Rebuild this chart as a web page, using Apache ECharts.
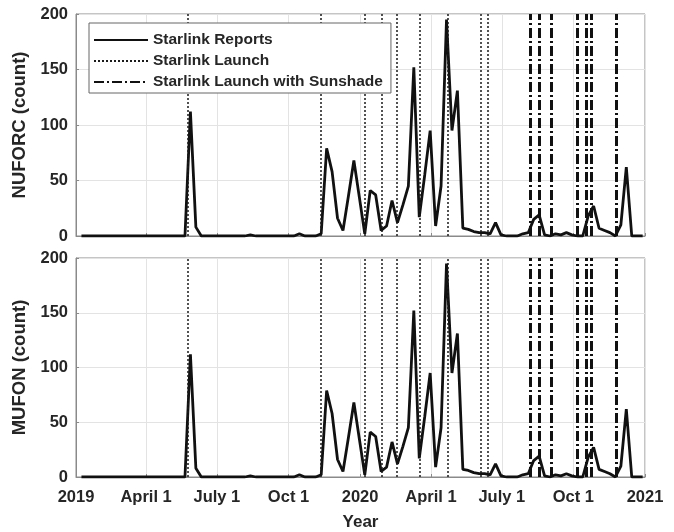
<!DOCTYPE html>
<html><head><meta charset="utf-8">
<script src="https://cdn.jsdelivr.net/npm/echarts@6/dist/echarts.min.js"></script>
<style>html,body{margin:0;padding:0;background:#fff}#c{width:674px;height:532px}</style>
</head><body><div id="c"></div>
<script>
// ---- data ----
const firstWeek = '2019-01-08';
const nuforcCounts = [0,0,0,0,0,0,0,0,0,0,0,0,0,0,0,0,0,0,0,0,112,8,0,0,0,0,0,0,0,0,0,1,0,0,0,0,0,0,0,0,2,0,0,0,2,79,58,16,5,36,68,35,2,41,37,5,9,32,12,28,45,152,17,55,95,9,45,195,95,131,7,6,4,3,3,2,12,1,0,0,0,2,3,15,19,1,0,2,1,3,1,0,0,18,27,7,5,3,0,10,62,0,0,0];
const mufonCounts  = [0,0,0,0,0,0,0,0,0,0,0,0,0,0,0,0,0,0,0,0,112,8,0,0,0,0,0,0,0,0,0,1,0,0,0,0,0,0,0,0,2,0,0,0,2,79,58,16,5,36,68,35,2,41,37,5,9,32,12,28,45,152,17,55,95,9,45,195,95,131,7,6,4,3,3,2,12,1,0,0,0,2,3,15,19,1,0,2,1,3,1,0,0,18,27,7,5,3,0,10,62,0,0,0];
const launchDates = ['2019-05-24','2019-11-11','2020-01-07','2020-01-29','2020-02-17','2020-03-18','2020-04-22','2020-06-04','2020-06-13'];
const sunshadeDates = ['2020-08-07','2020-08-18','2020-09-03','2020-10-06','2020-10-18','2020-10-24','2020-11-25'];
const tickDates = ['2019-01-01','2019-04-01','2019-07-01','2019-10-01','2020-01-01','2020-04-01','2020-07-01','2020-10-01','2021-01-01'];
const tickLabels = ['2019','April 1','July 1','Oct 1','2020','April 1','July 1','Oct 1','2021'];

function ts(s){const p=s.split('-').map(Number);return Date.UTC(p[0],p[1]-1,p[2]);}
const DAY=86400000;
const t0 = ts(firstWeek);
function pairs(vals){return vals.map((v,i)=>[t0+i*7*DAY, v]);}
const tickTimes = tickDates.map(ts);

const FONT = 'Liberation Sans, Arial, sans-serif';
const TXT = '#262626';

function xAxis(gi, showLabels){
  return {
    type:'value', gridIndex:gi, min:tickTimes[0], max:tickTimes[tickTimes.length-1],
    axisLine:{show:true,onZero:false,lineStyle:{color:'#8a8a8a',width:1}},
    axisTick:{show:true,inside:true,length:3,customValues:tickTimes,lineStyle:{color:'#8a8a8a'}},
    axisLabel:{show:showLabels,customValues:tickTimes,margin:12,fontFamily:FONT,fontWeight:'bold',fontSize:16.5,color:TXT,
      formatter:(v)=>{let b=0,d=Infinity;tickTimes.forEach((t,i)=>{if(Math.abs(t-v)<d){d=Math.abs(t-v);b=i;}});return tickLabels[b];},
      hideOverlap:false, showMinLabel:true, showMaxLabel:true},
    splitLine:{show:true,lineStyle:{color:'#e3e3e3',width:1}},
    name: showLabels?'Year':'', nameLocation:'middle', nameGap:37,
    nameTextStyle:{fontFamily:FONT,fontWeight:'bold',fontSize:17,color:TXT}
  };
}
function yAxis(gi, name){
  return {
    type:'value', gridIndex:gi, min:0, max:200, interval:50,
    axisLine:{show:true,lineStyle:{color:'#8a8a8a',width:1}},
    axisTick:{show:true,inside:true,length:3,lineStyle:{color:'#8a8a8a'}},
    axisLabel:{margin:8,fontFamily:FONT,fontWeight:'bold',fontSize:16.5,color:TXT},
    splitLine:{show:true,lineStyle:{color:'#e3e3e3',width:1}},
    name:name, nameLocation:'middle', nameGap:39,
    nameTextStyle:{fontFamily:FONT,fontWeight:'bold',fontSize:18.5,color:TXT}
  };
}
const dotStyle = {color:'#1a1a1a',width:1.5,type:[2,2]};
const dashDotStyle = {color:'#111',width:3,type:[10,3,2,3]};
function launchSeries(gi, name, dates, style){
  return {
    type:'line', name:name, xAxisIndex:gi, yAxisIndex:gi, data:[], symbol:'none',
    lineStyle:style, itemStyle:{color:style.color}, z:3,
    markLine:{silent:true, symbol:['none','none'], label:{show:false},
      lineStyle:style, data:dates.map(d=>({xAxis:ts(d)})), animation:false}
  };
}
function reportSeries(gi, vals){
  return {type:'line', name:'Starlink Reports', xAxisIndex:gi, yAxisIndex:gi, data:pairs(vals),
    symbol:'none', lineStyle:{color:'#111',width:2.8}, itemStyle:{color:'#111'}, z:2};
}

const chart = echarts.init(document.getElementById('c'));
chart.setOption({
  animation:false,
  backgroundColor:'#fff',
  grid:[
    {left:76,right:29,top:14,height:222,show:true,borderColor:'#8a8a8a',borderWidth:1,backgroundColor:'transparent'},
    {left:76,right:29,top:258,height:221,show:true,borderColor:'#8a8a8a',borderWidth:1,backgroundColor:'transparent'}
  ],
  xAxis:[xAxis(0,false), xAxis(1,true)],
  yAxis:[yAxis(0,'NUFORC (count)'), yAxis(1,'MUFON (count)')],
  legend:{
    data:['Starlink Reports','Starlink Launch','Starlink Launch with Sunshade'],
    orient:'vertical', left:89, top:23, z:10,
    backgroundColor:'#fff', borderColor:'#666', borderWidth:1, borderRadius:0,
    padding:[9,8,3,4], itemWidth:54, itemHeight:14, itemGap:5,
    itemStyle:{opacity:0},
    textStyle:{fontFamily:FONT,fontWeight:'bold',fontSize:15.5,color:TXT},
    selectedMode:false
  },
  series:[
    reportSeries(0, nuforcCounts),
    reportSeries(1, mufonCounts),
    launchSeries(0,'Starlink Launch',launchDates,dotStyle),
    launchSeries(1,'Starlink Launch',launchDates,dotStyle),
    launchSeries(0,'Starlink Launch with Sunshade',sunshadeDates,dashDotStyle),
    launchSeries(1,'Starlink Launch with Sunshade',sunshadeDates,dashDotStyle)
  ]
});
</script></body></html>
